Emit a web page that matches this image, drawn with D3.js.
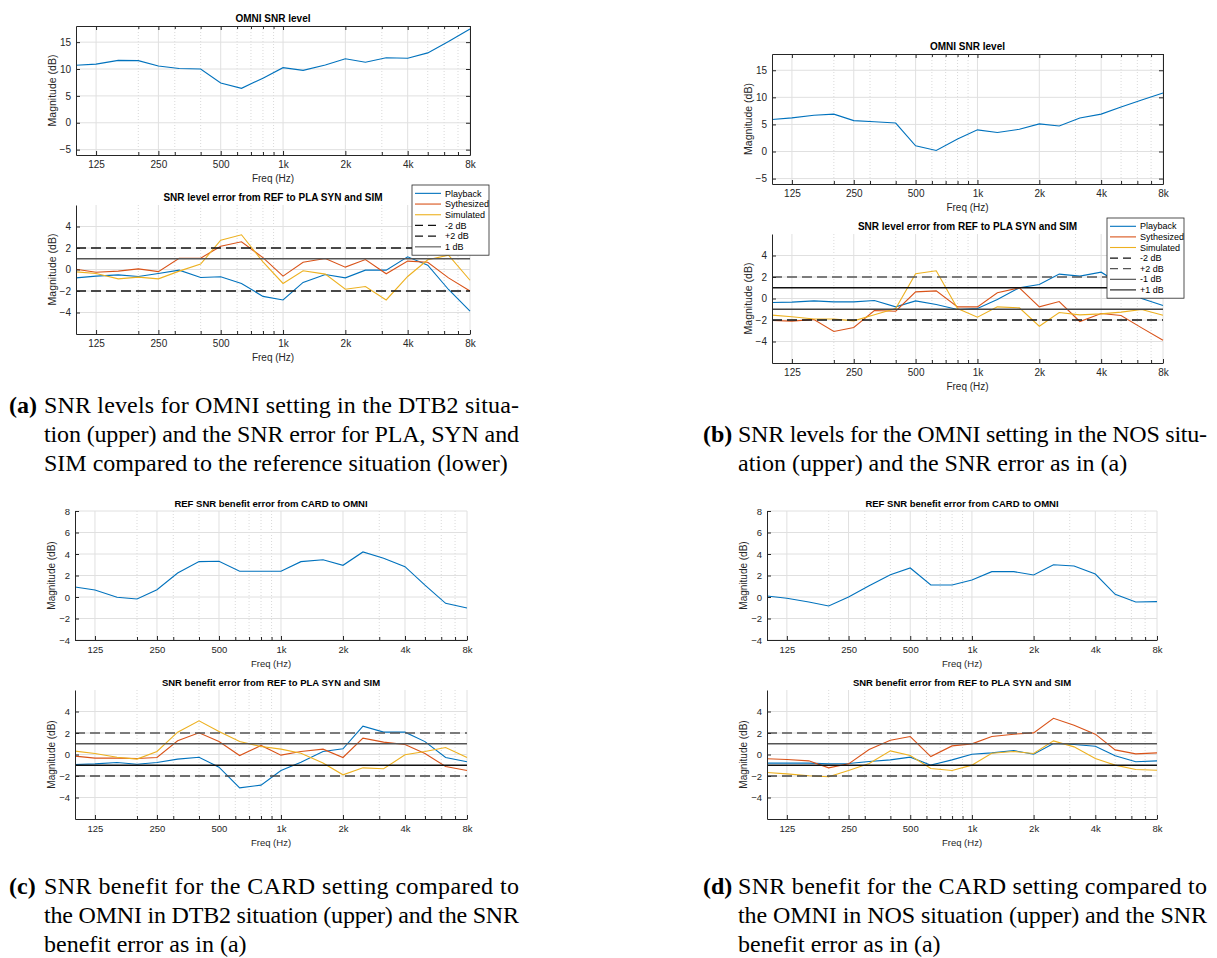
<!DOCTYPE html>
<html>
<head>
<meta charset="UTF-8" />
<title>SNR level and benefit figure</title>
<script src="https://d3js.org/d3.v7.min.js"></script>
<style>
  body { margin: 0; background: #fff; }
  svg { display: block; }
</style>
</head>
<body>
<svg id="fig" width="1217" height="958"></svg>
<script>
// third-octave band centres (Hz)
const freqs = [100,125,160,200,250,315,400,500,630,800,1000,1250,1600,2000,2500,3150,4000,5000,6300,8000]
const xTicks = [125,250,500,1000,2000,4000,8000]
const xTickLabels = ["125","250","500","1k","2k","4k","8k"]
const xMinor = [200,300,400,600,700,800,900,3000,5000,6000,7000]

const levelTicks = [-5,0,5,10,15]
const errTicks = [-4,-2,0,2,4]
const benefitTicks = [-4,-2,0,2,4,6,8]

const seriesNames = ["Playback","Sythesized","Simulated"]

// (a) DTB2
const aOmni = [10.7,10.9,11.6,11.55,10.55,10.1,10.0,7.4,6.4,8.3,10.25,9.75,10.75,11.9,11.25,12.1,12.0,13.0,15.1,17.45]
const aPla = [-0.78,-0.62,-0.5,-0.65,-0.37,-0.06,-0.75,-0.68,-1.3,-2.5,-2.83,-1.2,-0.47,-0.78,-0.06,-0.06,1.18,0.4,-1.86,-3.88]
const aSyn = [0.03,-0.25,-0.15,0.06,-0.2,1.05,1.05,2.17,2.58,1.1,-0.62,0.68,1.02,0.22,0.93,-0.4,0.78,0.68,-0.78,-2.0]
const aSim = [-0.22,-0.37,-0.87,-0.71,-0.87,-0.15,0.5,2.73,3.23,0.71,-1.3,-0.12,-0.43,-1.83,-1.58,-2.83,-0.65,0.9,1.33,-1.0]
const aRefs = [-2,2,1]
const aRefNames = ["-2 dB","+2 dB","1 dB"]

// (b) NOS
const bOmni = [5.9,6.2,6.7,6.9,5.7,5.5,5.25,1.05,0.2,2.3,4.0,3.5,4.1,5.1,4.7,6.2,6.9,8.2,9.5,10.8]
const bPla = [-0.37,-0.34,-0.22,-0.31,-0.31,-0.19,-0.78,-0.22,-0.56,-1.02,-0.93,-0.09,1.0,1.3,2.27,2.08,2.45,1.3,0.0,-0.65]
const bSyn = [-2.05,-2.1,-1.95,-3.07,-2.7,-1.12,-1.18,0.62,0.71,-0.78,-0.78,0.53,1.0,-0.78,-0.28,-2.14,-1.4,-1.58,-2.73,-3.88]
const bSim = [-1.55,-1.7,-1.9,-1.9,-2.08,-1.52,-0.93,2.3,2.58,-0.93,-1.74,-0.78,-0.87,-2.58,-1.3,-1.52,-1.43,-1.27,-1.02,-1.55]
const bRefs = [-2,2,-1,1]
const bRefNames = ["-2 dB","+2 dB","-1 dB","+1 dB"]

// (c) DTB2 benefit
const cRef = [0.93,0.65,-0.03,-0.19,0.68,2.23,3.29,3.32,2.39,2.39,2.39,3.29,3.47,2.95,4.19,3.6,2.82,1.1,-0.59,-1.02]
const cPla = [-0.93,-0.87,-0.74,-0.9,-0.74,-0.43,-0.25,-1.18,-3.1,-2.85,-1.49,-0.72,0.28,0.53,2.64,2.08,2.08,1.2,-0.28,-0.68]
const cSyn = [-0.15,-0.34,-0.34,-0.37,-0.28,1.27,2.02,1.2,-0.1,0.84,-0.06,0.28,0.5,-0.28,1.52,1.15,0.93,0.1,-1.12,-1.49]
const cSim = [0.31,0.09,-0.25,-0.43,0.28,2.08,3.13,2.14,1.2,0.74,0.5,0.12,-0.8,-1.89,-1.24,-1.33,-0.03,0.28,0.65,-0.28]
const cRefs = [2,-2,1,-1]

// (d) NOS benefit
const dRef = [0.1,-0.12,-0.46,-0.83,0.0,1.05,2.08,2.7,1.12,1.12,1.58,2.36,2.36,2.05,3.0,2.89,2.14,0.25,-0.46,-0.43]
const dPla = [-0.8,-0.8,-0.8,-0.87,-0.84,-0.65,-0.5,-0.25,-0.99,-0.5,0.03,0.15,0.37,0.03,1.02,0.93,0.77,-0.12,-0.68,-0.59]
const dSyn = [-0.4,-0.46,-0.59,-1.24,-0.87,0.46,1.33,1.67,-0.19,0.8,0.99,1.67,1.89,2.01,3.37,2.72,1.89,0.43,0.06,0.15]
const dSim = [-1.67,-1.8,-1.98,-2.07,-1.49,-0.84,0.34,-0.09,-1.3,-1.49,-0.99,0.12,0.28,0.09,1.27,0.71,-0.37,-0.99,-1.39,-1.46]
const dRefs = [2,-2,1,-1]

// captions
const capA = ["SNR levels for OMNI setting in the DTB2 situa-", "tion (upper) and the SNR error for PLA, SYN and", "SIM compared to the reference situation (lower)"]
const capB = ["SNR levels for the OMNI setting in the NOS situ-", "ation (upper) and the SNR error as in (a)"]
const capC = ["SNR benefit for the CARD setting compared to", "the OMNI in DTB2 situation (upper) and the SNR", "benefit error as in (a)"]
const capD = ["SNR benefit for the CARD setting compared to", "the OMNI in NOS situation (upper) and the SNR", "benefit error as in (a)"]

// colours (matlab default order)
const blue = "#0072BD", orange = "#D95319", yellow = "#EDB120"
const axisCol = "#262626"
const font = "'Liberation Sans', Arial, sans-serif"

const svg = d3.select("#fig")

function drawPanel(cfg) {
	const g = svg.append("g")
	const x = d3.scaleLog().domain([100, 8000]).range([cfg.left, cfg.right])
	const y = d3.scaleLinear().domain(cfg.yDomain).range([cfg.bottom, cfg.top])

	// grid
	g.selectAll(".minorGrid").data(xMinor).join("line")
		.attr("x1", d => x(d)).attr("x2", d => x(d))
		.attr("y1", cfg.top).attr("y2", cfg.bottom)
		.attr("stroke", "#cfcfcf").attr("stroke-dasharray", "1,2").attr("stroke-width", 0.8)
	g.selectAll(".xGrid").data(xTicks).join("line")
		.attr("x1", d => x(d)).attr("x2", d => x(d))
		.attr("y1", cfg.top).attr("y2", cfg.bottom)
		.attr("stroke", "#e0e0e0").attr("stroke-width", 1)
	g.selectAll(".yGrid").data(cfg.yTicks).join("line")
		.attr("x1", cfg.left).attr("x2", cfg.right)
		.attr("y1", d => y(d)).attr("y2", d => y(d))
		.attr("stroke", "#e0e0e0").attr("stroke-width", 1)

	// data lines
	const line = d3.line().x((d, i) => x(freqs[i])).y(d => y(d))
	cfg.series.forEach(s => {
		g.append("path").datum(s.values)
			.attr("d", line)
			.attr("fill", "none")
			.attr("stroke", s.color)
			.attr("stroke-width", 1.1)
	})

	// reference lines
	cfg.refs.forEach(r => {
		g.append("line")
			.attr("x1", cfg.left).attr("x2", cfg.right)
			.attr("y1", y(r.v)).attr("y2", y(r.v))
			.attr("stroke", r.color)
			.attr("stroke-width", 1.3)
			.attr("stroke-dasharray", r.dash ? "10,5" : null)
	})

	// axes
	const styleAxis = a => {
		a.selectAll("path").attr("stroke", axisCol)
		a.selectAll("line").attr("stroke", axisCol)
		a.selectAll("text").attr("fill", axisCol).style("font-family", font).style("font-size", cfg.fs + "px")
	}
	const xAxis = d3.axisBottom(x).tickValues(xTicks).tickFormat((d, i) => xTickLabels[i])
		.tickSizeInner(-4).tickSizeOuter(0).tickPadding(6)
	g.append("g").attr("transform", `translate(0,${cfg.bottom})`).call(xAxis).call(styleAxis)
	g.append("g").attr("transform", `translate(0,${cfg.bottom})`)
		.call(d3.axisBottom(x).tickValues(xMinor).tickFormat("").tickSizeInner(-3).tickSizeOuter(0))
		.call(a => a.select(".domain").remove()).call(styleAxis)
	const yAxis = d3.axisLeft(y).tickValues(cfg.yTicks).tickSizeInner(-4).tickSizeOuter(0).tickPadding(5)
	g.append("g").attr("transform", `translate(${cfg.left},0)`).call(yAxis).call(styleAxis)

	if (cfg.box) {
		g.append("g").attr("transform", `translate(0,${cfg.top})`)
			.call(d3.axisTop(x).tickValues(xTicks).tickFormat("").tickSizeInner(-4).tickSizeOuter(0)).call(styleAxis)
		g.append("g").attr("transform", `translate(0,${cfg.top})`)
			.call(d3.axisTop(x).tickValues(xMinor).tickFormat("").tickSizeInner(-3).tickSizeOuter(0))
			.call(a => a.select(".domain").remove()).call(styleAxis)
		g.append("g").attr("transform", `translate(${cfg.right},0)`)
			.call(d3.axisRight(y).tickValues(cfg.yTicks).tickFormat("").tickSizeInner(-4).tickSizeOuter(0)).call(styleAxis)
	}

	// labels
	const midX = (cfg.left + cfg.right) / 2
	g.append("text").attr("x", midX).attr("y", cfg.top - 4)
		.attr("text-anchor", "middle").style("font-family", font).style("font-weight", "bold")
		.style("font-size", cfg.fs + "px").attr("fill", "#000").text(cfg.title)
	g.append("text").attr("x", midX).attr("y", cfg.bottom + 27)
		.attr("text-anchor", "middle").style("font-family", font)
		.style("font-size", cfg.fs + "px").attr("fill", axisCol).text("Freq (Hz)")
	g.append("text")
		.attr("transform", `translate(${cfg.left - 20},${(cfg.top + cfg.bottom) / 2}) rotate(-90)`)
		.attr("text-anchor", "middle").style("font-family", font)
		.style("font-size", (cfg.fs + 0.5) + "px").attr("fill", axisCol).text("Magnitude (dB)")

	// legend
	if (cfg.legend) {
		const L = cfg.legend
		const items = cfg.series.map(s => ({ name: s.name, color: s.color, dash: false }))
			.concat(cfg.refs.map(r => ({ name: r.name, color: r.color, dash: r.dash })))
		const lg = g.append("g")
		lg.append("rect").attr("x", L.x).attr("y", L.y).attr("width", L.w).attr("height", L.rowH * items.length + 6)
			.attr("fill", "#fff").attr("stroke", axisCol).attr("stroke-width", 0.8)
		items.forEach((it, i) => {
			const cy = L.y + 3 + L.rowH * (i + 0.5)
			lg.append("line").attr("x1", L.x + 3).attr("x2", L.x + 29).attr("y1", cy).attr("y2", cy)
				.attr("stroke", it.color).attr("stroke-width", it.dash ? 1.3 : 1.1)
				.attr("stroke-dasharray", it.dash ? "8,5" : null)
			lg.append("text").attr("x", L.x + 33).attr("y", cy).attr("dy", "0.35em")
				.style("font-family", font).style("font-size", "9px").attr("fill", "#000").text(it.name)
		})
	}
}

function caption(labelX, textX, rightX, baseY, label, lines) {
	const cg = svg.append("g").style("font-family", "'Liberation Serif', 'Times New Roman', serif").style("font-size", "24px")
	cg.append("text").attr("x", labelX).attr("y", baseY).style("font-weight", "bold").text("(" + label + ")")
	lines.forEach((t, i) => {
		const tx = cg.append("text").attr("x", textX).attr("y", baseY + i * 29).text(t)
		if (i < lines.length - 1) tx.attr("textLength", rightX - textX).attr("lengthAdjust", "spacing")
	})
}

const mk = (vals) => vals.map((v, i) => ({ values: v, color: [blue, orange, yellow][i], name: seriesNames[i] }))

// (a)
drawPanel({ left: 76, right: 470, top: 26, bottom: 155, yDomain: [-6, 18], yTicks: levelTicks, fs: 10,
	title: "OMNI SNR level", box: true, series: [{ values: aOmni, color: blue }], refs: [] })
drawPanel({ left: 76, right: 470, top: 205, bottom: 334, yDomain: [-6, 6], yTicks: errTicks, fs: 10,
	title: "SNR level error from REF to PLA SYN and SIM", box: false,
	series: mk([aPla, aSyn, aSim]),
	refs: aRefs.map((v, i) => ({ v: v, name: aRefNames[i], dash: i < 2, color: i < 2 ? "#111" : "#555" })),
	legend: { x: 412, y: 185, w: 77, rowH: 10.7 } })

// (b)
drawPanel({ left: 772, right: 1163, top: 54, bottom: 184, yDomain: [-6, 18], yTicks: levelTicks, fs: 10,
	title: "OMNI SNR level", box: true, series: [{ values: bOmni, color: blue }], refs: [] })
drawPanel({ left: 772, right: 1163, top: 234, bottom: 363, yDomain: [-6, 6], yTicks: errTicks, fs: 10,
	title: "SNR level error from REF to PLA SYN and SIM", box: false,
	series: mk([bPla, bSyn, bSim]),
	refs: bRefs.map((v, i) => ({ v: v, name: bRefNames[i], dash: i < 2, color: ["#111", "#555", "#444", "#111"][i] })),
	legend: { x: 1107, y: 218, w: 77, rowH: 10.6 } })

// (c)
drawPanel({ left: 75, right: 467, top: 511, bottom: 640, yDomain: [-4, 8], yTicks: benefitTicks, fs: 9.5,
	title: "REF SNR benefit error from CARD to OMNI", box: false, series: [{ values: cRef, color: blue }], refs: [] })
drawPanel({ left: 75, right: 467, top: 690, bottom: 819, yDomain: [-6, 6], yTicks: errTicks, fs: 9.5,
	title: "SNR benefit error from REF to PLA SYN and SIM", box: false,
	series: mk([cPla, cSyn, cSim]),
	refs: cRefs.map((v, i) => ({ v: v, dash: i < 2, color: ["#555", "#444", "#555", "#111"][i] })) })

// (d)
drawPanel({ left: 767, right: 1157, top: 511, bottom: 640, yDomain: [-4, 8], yTicks: benefitTicks, fs: 9.5,
	title: "REF SNR benefit error from CARD to OMNI", box: false, series: [{ values: dRef, color: blue }], refs: [] })
drawPanel({ left: 767, right: 1157, top: 690, bottom: 819, yDomain: [-6, 6], yTicks: errTicks, fs: 9.5,
	title: "SNR benefit error from REF to PLA SYN and SIM", box: false,
	series: mk([dPla, dSyn, dSim]),
	refs: dRefs.map((v, i) => ({ v: v, dash: i < 2, color: ["#555", "#444", "#555", "#111"][i] })) })

caption(9, 44, 519, 413, "a", capA)
caption(703, 738, 1207, 442, "b", capB)
caption(9, 44, 519, 894, "c", capC)
caption(703, 738, 1207, 894, "d", capD)
</script>
</body>
</html>
